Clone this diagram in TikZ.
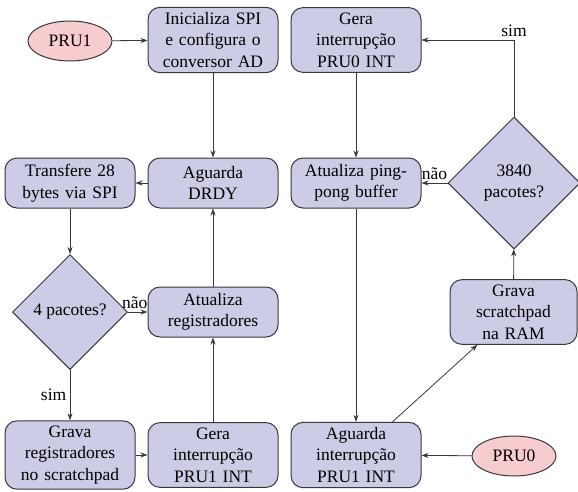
\documentclass[tikz,border=0pt]{standalone}
\usepackage{fontspec}
\setmainfont{LiberationSerif}[Extension=.ttf,UprightFont=*-Regular,BoldFont=*-Bold,ItalicFont=*-Italic,BoldItalicFont=*-BoldItalic]
\usetikzlibrary{shapes.geometric,arrows.meta}
\definecolor{caixa}{RGB}{205,204,230}
\definecolor{rosa}{RGB}{246,204,206}
\definecolor{borda}{RGB}{55,55,60}
\begin{document}
\begin{tikzpicture}[x=1pt,y=-1pt,
        font=\rmfamily\fontsize{17.5}{21.5}\selectfont,
        passo/.style={draw=borda,fill=caixa,line width=1pt,rounded corners=12pt,text width=120pt,align=center,minimum height=50pt,inner sep=5pt},
        decisao/.style={diamond,aspect=1,draw=borda,fill=caixa,line width=1pt,inner sep=0pt,align=center},
        inicio/.style={ellipse,draw=borda,fill=rosa,line width=1pt,minimum width=84pt,minimum height=40pt},
        seta/.style={draw=borda,line width=0.8pt,-{Stealth[length=7pt,width=5pt]}}]
        \useasboundingbox (0,0) rectangle (578,491);
        \node[inicio] (pru1) at (70,41) {PRU1};
        \node[passo] (inic) at (213,40) {Inicializa SPI\\e configura o\\conversor AD};
        \node[passo] (drdy) at (213,183) {Aguarda\\DRDY};
        \node[passo] (transf) at (70,183) {Transfere 28\\bytes via SPI};
        \node[decisao,minimum size=115pt] (quatro) at (70,312) {4 pacotes?};
        \node[passo] (atreg) at (213,312) {Atualiza\\registradores};
        \node[passo] (gravreg) at (70,455) {Grava\\registradores\\no scratchpad};
        \node[passo] (gera1) at (213,455) {Gera\\interrupção\\PRU1 INT};
        \node[passo] (gera0) at (356,40) {Gera\\interrupção\\PRU0 INT};
        \node[passo] (ping) at (356,183) {Atualiza ping-\\pong buffer};
        \node[decisao,minimum size=132pt] (tres) at (514,183) {3840\\pacotes?};
        \node[passo,text width=117pt] (gravram) at (513.5,312) {Grava\\scratchpad\\na RAM};
        \node[passo] (aguint) at (356,455) {Aguarda\\interrupção\\PRU1 INT};
        \node[inicio] (pru0) at (514,456) {PRU0};
        \draw[seta] (pru1) -- (inic);
        \draw[seta] (inic) -- (drdy);
        \draw[seta] (drdy) -- (transf);
        \draw[seta] (transf) -- (quatro);
        \draw[seta] (quatro) -- node[above,pos=0.35] {não} (atreg);
        \draw[seta] (quatro) -- node[left] {sim} (gravreg);
        \draw[seta] (gravreg) -- (gera1);
        \draw[seta] (gera1) -- (atreg);
        \draw[seta] (atreg) -- (drdy);
        \draw[seta] (pru0) -- (aguint);
        \draw[seta] (aguint) -- (gravram);
        \draw[seta] (gravram) -- (tres);
        \draw[seta] (tres) -- node[above] {não} (ping);
        \draw[seta] (tres.north) |- node[above,pos=0.5] {sim} (gera0);
        \draw[seta] (gera0) -- (ping);
        \draw[seta] (ping) -- (aguint);
    \end{tikzpicture}
\end{document}
